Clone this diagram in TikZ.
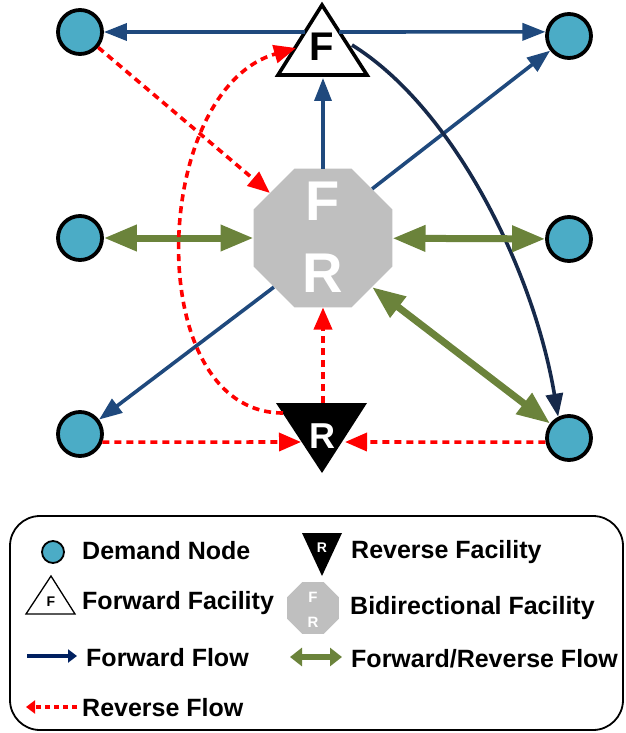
\documentclass[tikz,border=0pt]{standalone}
\usepackage{fontspec}
\setmainfont{Liberation Sans}
\usetikzlibrary{arrows.meta,shapes.geometric}
\definecolor{demandfill}{RGB}{75,172,198}
\definecolor{fwdblue}{RGB}{31,73,125}
\definecolor{navyblue}{RGB}{22,41,74}
\definecolor{legnavy}{RGB}{0,32,96}
\definecolor{greenflow}{RGB}{107,131,59}
\definecolor{octgray}{RGB}{191,191,191}
\definecolor{revred}{RGB}{255,0,0}
\begin{document}
\begin{tikzpicture}[x=1pt,y=-1pt,
  demand/.style={circle,draw=black,fill=demandfill,line width=3.8pt,minimum size=44pt,inner sep=0pt},
  octa/.style={regular polygon,regular polygon sides=8,fill=octgray,draw=none,inner sep=0pt},
  fwd/.style={draw=fwdblue,line width=3.6pt,-{Triangle[length=23pt,width=17pt]}},
  fwdcurve/.style={draw=navyblue,line width=3.6pt,-{Triangle[length=23pt,width=17pt]}},
  both/.style={draw=greenflow,line width=7pt,{Triangle[length=33pt,width=25pt]}-{Triangle[length=33pt,width=25pt]}},
  rev/.style={draw=revred,line width=3.6pt,dash pattern=on 7pt off 5pt,-{Triangle[length=22pt,width=18pt]}},
  bigtxt/.style={font=\bfseries\fontsize{#1}{#1}\selectfont,inner sep=0pt},
  legtext/.style={font=\bfseries\fontsize{25}{30}\selectfont,anchor=base west,inner sep=0pt}]
\useasboundingbox (0,0) rectangle (625,733);

% demand nodes
\node[demand] (dTL) at (80,32) {};
\node[demand] (dTR) at (569,36) {};
\node[demand] (dML) at (80,238) {};
\node[demand] (dMR) at (569,239) {};
\node[demand] (dBL) at (80,434) {};
\node[demand] (dBR) at (569,438) {};

% bidirectional facility
\node[octa,minimum size=150pt] (oct) at (323,238) {};
\node[bigtxt=56,text=white] (octF) at (323,201) {F};
\node[bigtxt=56,text=white] (octR) at (323,273) {R};

% forward facility
\coordinate (Ftop) at (322,5);
\coordinate (FbR) at (367,75);
\coordinate (FbL) at (278,75);
\coordinate (Fbase) at (323,78);
\coordinate (Fl) at (305,32);
\coordinate (Fr) at (339,32);
\coordinate (Fr2) at (352,45);
\coordinate (Fl2) at (296,48);
\draw[line width=3.6pt,fill=white] (Ftop) -- (FbR) -- (FbL) -- cycle;
\node[bigtxt=40] (Flab) at (322,47) {F};

% reverse facility
\coordinate (RtL) at (276,403);
\coordinate (RtR) at (367,403);
\coordinate (Rbot) at (322,473);
\coordinate (Rtop) at (323,403);
\coordinate (Rl) at (301,442);
\coordinate (Rr) at (345,442);
\coordinate (Rl2) at (283,413);
\fill[black] (RtL) -- (RtR) -- (Rbot) -- cycle;
\node[bigtxt=36,text=white] (Rlab) at (322,436) {R};

% forward flows
\draw[fwd] (Fl) -- (dTL.east);
\draw[fwd] (Fr) -- (dTR.170);
\draw[fwd] (oct.north) -- (Fbase);
\draw[fwd] (oct.45) -- (dTR);
\draw[fwd] (oct.225) -- (dBL);
\draw[fwdcurve] (Fr2) .. controls (452,107) and (533,267) .. (dBR.117);

% forward/reverse flows
\draw[both] (dML) -- (oct);
\draw[both] (oct) -- (dMR);
\draw[both] (oct.-45) -- (dBR);

% reverse flows
\draw[rev] (dTL) -- (oct);
\draw[rev] (Rtop) -- (oct.south);
\draw[rev] (dBL.-20) -- (Rl);
\draw[rev] (dBR.190) -- (Rr);
\draw[rev] (Rl2) .. controls (140,413) and (150,90) .. (Fl2);

% legend
\draw[line width=1.8pt,rounded corners=30pt] (10,516) rectangle (623,730);
\node[circle,draw=black,fill=demandfill,line width=1.8pt,minimum size=22pt,inner sep=0pt] (lgD) at (53,552) {};
\node[legtext] (lgDt) at (82,559) {Demand Node};

\coordinate (lgRa) at (302,533);
\coordinate (lgRb) at (342,533);
\coordinate (lgRc) at (322,576);
\fill[black] (lgRa) -- (lgRb) -- (lgRc) -- cycle;
\node[bigtxt=14,text=white] (lgRl) at (322,548) {R};
\node[legtext] (lgRt) at (351,558) {Reverse Facility};

\coordinate (lgFa) at (51,576);
\coordinate (lgFb) at (75,614);
\coordinate (lgFc) at (26,614);
\draw[line width=1.3pt,fill=white] (lgFa) -- (lgFb) -- (lgFc) -- cycle;
\node[bigtxt=14] (lgFl) at (51,602) {F};
\node[legtext] (lgFt) at (82,609) {Forward Facility};

\node[octa,minimum size=56pt] (lgO) at (313,608) {};
\node[bigtxt=15,text=white] (lgOF) at (313,597) {F};
\node[bigtxt=15,text=white] (lgOR) at (313,622) {R};
\node[legtext] (lgOt) at (350,614) {Bidirectional Facility};

\coordinate (lf1) at (27,656);
\coordinate (lf2) at (77,656);
\draw[draw=legnavy,line width=3.2pt,-{Triangle[length=9pt,width=13pt]}] (lf1) -- (lf2);
\node[legtext] (lgFFt) at (86,666) {Forward Flow};

\coordinate (lg1) at (290,657);
\coordinate (lg2) at (342,657);
\draw[draw=greenflow,line width=5.5pt,{Triangle[length=12pt,width=18pt]}-{Triangle[length=12pt,width=18pt]}] (lg1) -- (lg2);
\node[legtext] (lgBt) at (351,667) {Forward/Reverse Flow};

\coordinate (lr1) at (77,707);
\coordinate (lr2) at (26,707);
\draw[draw=revred,line width=3.2pt,dash pattern=on 5pt off 4pt,-{Triangle[length=9pt,width=13pt]}] (lr1) -- (lr2);
\node[legtext] (lgRFt) at (82,716) {Reverse Flow};
\end{tikzpicture}
\end{document}
